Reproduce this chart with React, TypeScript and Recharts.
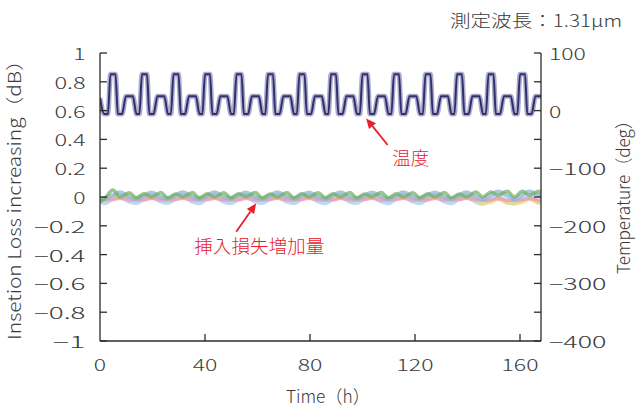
import React from 'react';
import { ComposedChart, Line, XAxis, YAxis, ReferenceLine } from 'recharts';

// ---- data ----
const tempTime = [
  0, 1.6,
  3, 4, 5.9, 6.8, 8.4, 9.9, 12.5, 13.9,
  15, 16, 17.9, 18.8, 20.4, 21.9, 24.5, 25.9,
  27, 28, 29.9, 30.8, 32.4, 33.9, 36.5, 37.9,
  39, 40, 41.9, 42.8, 44.4, 45.9, 48.5, 49.9,
  51, 52, 53.9, 54.8, 56.4, 57.9, 60.5, 61.9,
  63, 64, 65.9, 66.8, 68.4, 69.9, 72.5, 73.9,
  75, 76, 77.9, 78.8, 80.4, 81.9, 84.5, 85.9,
  87, 88, 89.9, 90.8, 92.4, 93.9, 96.5, 97.9,
  99, 100, 101.9, 102.8, 104.4, 105.9, 108.5, 109.9,
  111, 112, 113.9, 114.8, 116.4, 117.9, 120.5, 121.9,
  123, 124, 125.9, 126.8, 128.4, 129.9, 132.5, 133.9,
  135, 136, 137.9, 138.8, 140.4, 141.9, 144.5, 145.9,
  147, 148, 149.9, 150.8, 152.4, 153.9, 156.5, 157.9,
  159, 160, 161.9, 162.8, 164.4, 165.9, 168,
];
const tempValue = [
  22, -6,
  -6, 63, 63, -6, -6, 25, 25, -6,
  -6, 63, 63, -6, -6, 25, 25, -6,
  -6, 63, 63, -6, -6, 25, 25, -6,
  -6, 63, 63, -6, -6, 25, 25, -6,
  -6, 63, 63, -6, -6, 25, 25, -6,
  -6, 63, 63, -6, -6, 25, 25, -6,
  -6, 63, 63, -6, -6, 25, 25, -6,
  -6, 63, 63, -6, -6, 25, 25, -6,
  -6, 63, 63, -6, -6, 25, 25, -6,
  -6, 63, 63, -6, -6, 25, 25, -6,
  -6, 63, 63, -6, -6, 25, 25, -6,
  -6, 63, 63, -6, -6, 25, 25, -6,
  -6, 63, 63, -6, -6, 25, 25, -6,
  -6, 63, 63, -6, -6, 25, 25,
];

const lossTime = [
  0,
  1.8, 4.9, 7.6, 11.2,
  13.8, 16.9, 19.6, 23.2,
  25.8, 28.9, 31.6, 35.2,
  37.8, 40.9, 43.6, 47.2,
  49.8, 52.9, 55.6, 59.2,
  61.8, 64.9, 67.6, 71.2,
  73.8, 76.9, 79.6, 83.2,
  85.8, 88.9, 91.6, 95.2,
  97.8, 100.9, 103.6, 107.2,
  109.8, 112.9, 115.6, 119.2,
  121.8, 124.9, 127.6, 131.2,
  133.8, 136.9, 139.6, 143.2,
  145.8, 148.9, 151.6, 155.2,
  157.8, 160.9, 163.6, 167.2,
  168,
];
const lossLightBlue = [
  -0.025,
  -0.042, -0.01, 0.0, -0.03,
  -0.042, -0.012, 0.0, -0.03,
  -0.04, -0.01, 0.002, -0.03,
  -0.042, -0.01, 0.0, -0.032,
  -0.042, -0.012, 0.0, -0.03,
  -0.04, -0.01, 0.0, -0.03,
  -0.042, -0.01, 0.002, -0.03,
  -0.042, -0.012, 0.0, -0.032,
  -0.04, -0.01, 0.0, -0.03,
  -0.042, -0.01, 0.0, -0.03,
  -0.042, -0.012, 0.002, -0.03,
  -0.042, -0.01, 0.0, -0.032,
  -0.045, -0.015, 0.0, -0.035,
  -0.045, -0.015, 0.0, -0.035,
  -0.035,
];
const lossYellow = [
  -0.01,
  -0.018, -0.005, 0.012, -0.008,
  -0.018, -0.006, 0.012, -0.008,
  -0.017, -0.005, 0.013, -0.008,
  -0.018, -0.005, 0.012, -0.009,
  -0.018, -0.006, 0.012, -0.008,
  -0.017, -0.005, 0.012, -0.008,
  -0.018, -0.005, 0.013, -0.008,
  -0.018, -0.006, 0.012, -0.009,
  -0.017, -0.005, 0.012, -0.008,
  -0.018, -0.005, 0.012, -0.008,
  -0.018, -0.006, 0.013, -0.008,
  -0.02, -0.01, 0.005, -0.02,
  -0.042, -0.032, -0.012, -0.038,
  -0.042, -0.032, -0.012, -0.038,
  -0.032,
];
const lossPink = [
  -0.015,
  -0.02, -0.018, -0.008, -0.02,
  -0.02, -0.02, -0.008, -0.02,
  -0.021, -0.018, -0.008, -0.02,
  -0.02, -0.018, -0.009, -0.02,
  -0.02, -0.02, -0.008, -0.021,
  -0.021, -0.018, -0.008, -0.02,
  -0.02, -0.018, -0.008, -0.02,
  -0.02, -0.02, -0.009, -0.02,
  -0.021, -0.018, -0.008, -0.021,
  -0.02, -0.018, -0.008, -0.02,
  -0.02, -0.02, -0.008, -0.02,
  -0.021, -0.018, -0.009, -0.02,
  -0.022, -0.02, -0.01, -0.022,
  -0.022, -0.02, -0.01, -0.022,
  -0.02,
];
const lossBlue = [
  -0.02,
  -0.01, 0.012, 0.032, 0.002,
  -0.012, 0.01, 0.03, 0.0,
  -0.01, 0.012, 0.032, 0.002,
  -0.012, 0.01, 0.032, 0.0,
  -0.01, 0.012, 0.03, 0.0,
  -0.012, 0.01, 0.032, 0.002,
  -0.01, 0.01, 0.03, 0.0,
  -0.012, 0.012, 0.032, 0.0,
  -0.01, 0.01, 0.03, 0.002,
  -0.012, 0.01, 0.032, 0.0,
  -0.01, 0.012, 0.03, 0.0,
  -0.012, 0.01, 0.032, 0.002,
  -0.015, 0.015, 0.037, 0.01,
  -0.015, 0.015, 0.037, 0.01,
  0.005,
];
const lossGreen = [
  -0.035,
  -0.01, 0.048, 0.0, 0.03,
  -0.005, 0.022, 0.0, 0.032,
  -0.005, 0.02, 0.0, 0.032,
  -0.006, 0.022, 0.0, 0.03,
  -0.005, 0.022, 0.002, 0.032,
  -0.005, 0.02, 0.0, 0.032,
  -0.006, 0.022, 0.0, 0.03,
  -0.005, 0.022, 0.0, 0.032,
  -0.005, 0.02, 0.002, 0.032,
  -0.006, 0.022, 0.0, 0.03,
  -0.005, 0.022, 0.0, 0.032,
  -0.005, 0.02, 0.0, 0.034,
  0.0, 0.035, 0.012, 0.04,
  0.0, 0.04, 0.012, 0.04,
  0.02,
];

const xTicks = [0, 40, 80, 120, 160];
const lossTicks = [-1, -0.8, -0.6, -0.4, -0.2, 0, 0.2, 0.4, 0.6, 0.8, 1];
const tempTicks = [-400, -350, -300, -250, -200, -150, -100, -50, 0, 50, 100];

const tempData = tempTime.map((t, i) => ({ t, v: tempValue[i] }));
const lossData = lossTime.map((t, i) => ({
  t,
  lb: lossLightBlue[i],
  y: lossYellow[i],
  p: lossPink[i],
  b: lossBlue[i],
  g: lossGreen[i],
}));

// ---- styles ----
const FONT = "'Noto Sans CJK JP', 'Noto Sans', sans-serif";
const FW = 300;
const AX = '#2b2b2b';
const TXT = '#3a3a3a';
const RED = '#e8202a';

const fmt = (v: number) => (v < 0 ? '\u2212' : '') + String(Math.abs(Math.round(v * 10) / 10));
const textW = (s: string) => {
  let w = 0;
  for (const c of s) w += c === '.' ? 6.5 : c === '\u2212' ? 20.5 : 12.3;
  return w;
};

const LeftTick = (props: any) => {
  const { x, y, payload } = props;
  const s = fmt(payload.value);
  return (
    <g>
      <line x1={x} x2={x + 7} y1={y} y2={y} stroke={AX} strokeWidth={1.3} />
      <text x={x - 14.5} y={y} textAnchor="end" dominantBaseline="central" fontFamily={FONT} fontSize={16}
        fontWeight={FW} fill={TXT} textLength={textW(s)} lengthAdjust="spacingAndGlyphs">{s}</text>
    </g>
  );
};

const RightTick = (props: any) => {
  const { x, y, payload } = props;
  const v = payload.value;
  const s = fmt(v);
  return (
    <g>
      <line x1={x} x2={x - 7} y1={y} y2={y} stroke={AX} strokeWidth={1.3} />
      {v % 100 === 0 ? (
        <text x={x + 8} y={y} textAnchor="start" dominantBaseline="central" fontFamily={FONT} fontSize={16}
          fontWeight={FW} fill={TXT} textLength={textW(s)} lengthAdjust="spacingAndGlyphs">{s}</text>
      ) : null}
    </g>
  );
};

const BottomTick = (props: any) => {
  const { x, y, payload } = props;
  const s = fmt(payload.value);
  return (
    <g>
      {payload.value !== 0 ? <line x1={x} x2={x} y1={y} y2={y - 7} stroke={AX} strokeWidth={1.3} /> : null}
      <text x={x} y={y + 23} textAnchor="middle" dominantBaseline="central" fontFamily={FONT} fontSize={16}
        fontWeight={FW} fill={TXT} textLength={textW(s)} lengthAdjust="spacingAndGlyphs">{s}</text>
    </g>
  );
};

const makeArrow = (label: string, dx: number, dy: number, tl: number) => (props: any) => {
  const { x1, y1, x2, y2 } = props;
  const ang = Math.atan2(y2 - y1, x2 - x1);
  const L = 10;
  const H = 4.5;
  const bx = x2 - L * Math.cos(ang);
  const by = y2 - L * Math.sin(ang);
  const px = -Math.sin(ang) * H;
  const py = Math.cos(ang) * H;
  return (
    <g>
      <line x1={x1} y1={y1} x2={bx} y2={by} stroke={RED} strokeWidth={1.8} />
      <polygon points={`${x2},${y2} ${bx + px},${by + py} ${bx - px},${by - py}`} fill={RED} />
      <text x={x1 + dx} y={y1 + dy} textAnchor="middle" dominantBaseline="central" fontFamily={FONT}
        fontSize={18} fontWeight={FW} fill={RED} textLength={tl} lengthAdjust="spacingAndGlyphs">{label}</text>
    </g>
  );
};

export default function App() {
  return (
    <div style={{ position: 'absolute', left: 0, top: 0, width: 636, height: 408, background: '#fff' }}>
      <ComposedChart width={636} height={408} margin={{ top: 53, right: 0, bottom: 0, left: 0 }}>
        <XAxis xAxisId="x" type="number" dataKey="t" domain={[0, 168]} ticks={xTicks} allowDataOverflow
          height={67} tickSize={0} tickMargin={0} tickLine={false} tick={BottomTick}
          axisLine={{ stroke: AX, strokeWidth: 1.3 }} interval={0} />
        <YAxis yAxisId="loss" orientation="left" domain={[-1, 1]} ticks={lossTicks} width={100}
          tickSize={0} tickMargin={0} tickLine={false} tick={LeftTick} interval={0}
          axisLine={{ stroke: AX, strokeWidth: 1.3 }} allowDataOverflow />
        <YAxis yAxisId="temp" orientation="right" domain={[-400, 100]} ticks={tempTicks} width={95}
          tickSize={0} tickMargin={0} tickLine={false} tick={RightTick} interval={0}
          axisLine={{ stroke: AX, strokeWidth: 1.3 }} allowDataOverflow />

        <Line xAxisId="x" yAxisId="loss" data={lossData} dataKey="lb" type="monotone" stroke="#a8cdee"
          strokeWidth={4.5} strokeOpacity={0.75} dot={false} activeDot={false} isAnimationActive={false} />
        <Line xAxisId="x" yAxisId="loss" data={lossData} dataKey="y" type="monotone" stroke="#ecd97e"
          strokeWidth={4.5} strokeOpacity={0.75} dot={false} activeDot={false} isAnimationActive={false} />
        <Line xAxisId="x" yAxisId="loss" data={lossData} dataKey="p" type="monotone" stroke="#ee94b7"
          strokeWidth={3.5} strokeOpacity={0.7} dot={false} activeDot={false} isAnimationActive={false} />
        <Line xAxisId="x" yAxisId="loss" data={lossData} dataKey="b" type="monotone" stroke="#86b6e2"
          strokeWidth={4.5} strokeOpacity={0.75} dot={false} activeDot={false} isAnimationActive={false} />
        <Line xAxisId="x" yAxisId="loss" data={lossData} dataKey="g" type="monotone" stroke="#74ad58"
          strokeWidth={3.5} strokeOpacity={0.7} dot={false} activeDot={false} isAnimationActive={false} />

        <Line xAxisId="x" yAxisId="temp" data={tempData} dataKey="v" type="monotone" stroke="#9a97c0"
          strokeWidth={5} strokeOpacity={0.8} dot={false} activeDot={false} isAnimationActive={false} />
        <Line xAxisId="x" yAxisId="temp" data={tempData} dataKey="v" type="monotone" stroke="#2e306c"
          strokeWidth={2} dot={false} activeDot={false} isAnimationActive={false} />

        <ReferenceLine xAxisId="x" yAxisId="temp" segment={[{ x: 109.6, y: -59.7 }, { x: 101.4, y: -13.5 }]}
          shape={makeArrow('温度', 23, 12, 37)} ifOverflow="visible" />
        <ReferenceLine xAxisId="x" yAxisId="loss" segment={[{ x: 51.9, y: -0.241 }, { x: 59.5, y: -0.044 }]}
          shape={makeArrow('挿入損失増加量', 23, 13, 130)} ifOverflow="visible" />

        <text x={622} y={19} textAnchor="end" dominantBaseline="central" fontFamily={FONT} fontSize={17}
          fontWeight={FW} fill={TXT} textLength={172} lengthAdjust="spacingAndGlyphs">測定波長：1.31μm</text>
        <text x={328} y={395} textAnchor="middle" dominantBaseline="central" fontFamily={FONT} fontSize={18}
          fontWeight={FW} fill={TXT} textLength={84} lengthAdjust="spacingAndGlyphs">Time（h）</text>
        <text transform="translate(21,195) rotate(-90)" x={0} y={0} textAnchor="middle" fontFamily={FONT}
          fontSize={18} fontWeight={FW} fill={TXT} textLength={290} lengthAdjust="spacingAndGlyphs">Insetion Loss increasing（dB）</text>
        <text transform="translate(630,193) rotate(-90)" x={0} y={0} textAnchor="middle" fontFamily={FONT}
          fontSize={18} fontWeight={FW} fill={TXT} textLength={162} lengthAdjust="spacingAndGlyphs">Temperature（deg）</text>
      </ComposedChart>
    </div>
  );
}
